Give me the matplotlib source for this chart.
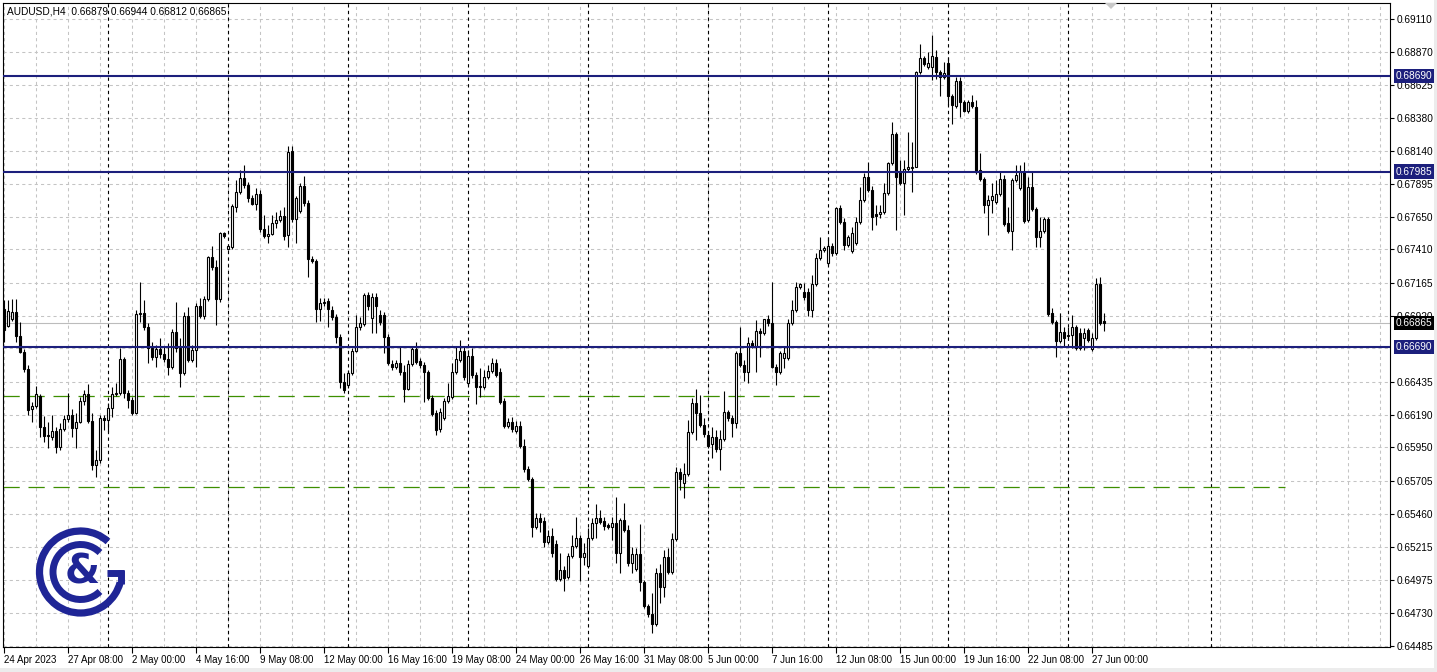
import matplotlib
matplotlib.use("Agg")
import matplotlib.pyplot as plt
from matplotlib.patches import Rectangle, Arc, Polygon
from matplotlib.transforms import blended_transform_factory

# ---------------- data ----------------
title_text = "AUDUSD,H4  0.66879 0.66944 0.66812 0.66865"

opens = [0.66971,0.66846,0.66897,0.66948,0.66772,0.66653,0.66529,0.66234,0.66256,0.66329,
0.66100,0.66034,0.66026,0.66071,0.65953,0.66086,0.66160,0.66189,0.66093,0.66137,
0.66293,0.66343,0.66145,0.65820,0.65857,0.66167,0.66152,0.66241,0.66343,0.66351,
0.66602,0.66351,0.66300,0.66204,0.66933,0.66941,0.66838,0.66683,0.66616,0.66676,
0.66638,0.66602,0.66543,0.66801,0.66683,0.66499,0.66919,0.66595,0.66668,0.66993,
0.66919,0.67045,0.67354,0.67280,0.67045,0.67532,0.67414,0.67428,0.67723,0.67834,
0.67937,0.67885,0.67790,0.67745,0.67819,0.67561,0.67510,0.67524,0.67605,0.67627,
0.67657,0.67517,0.68137,0.67635,0.67694,0.67878,0.67753,0.67340,0.67325,0.66971,
0.67015,0.67030,0.66963,0.66911,0.66764,0.66432,0.66410,0.66499,0.66661,0.66838,
0.66860,0.67074,0.66904,0.67059,0.66926,0.66926,0.66764,0.66565,0.66543,0.66573,
0.66506,0.66381,0.66565,0.66676,0.66587,0.66558,0.66506,0.66314,0.66204,0.66086,
0.66167,0.66293,0.66321,0.66506,0.66595,0.66661,0.66425,0.66624,0.66484,0.66395,
0.66395,0.66469,0.66514,0.66573,0.66506,0.66293,0.66108,0.66137,0.66071,0.66108,
0.65961,0.65791,0.65717,0.65362,0.65429,0.65407,0.65252,0.65297,0.65237,0.64980,
0.65046,0.64994,0.65149,0.65223,0.65282,0.65141,0.65075,0.65282,0.65392,0.65429,
0.65407,0.65377,0.65362,0.65392,0.65171,0.65414,0.65341,0.65097,0.65053,0.65163,
0.64957,0.64780,0.64721,0.64647,0.65024,0.64920,0.65141,0.65031,0.65275,0.65768,
0.65688,0.65753,0.66063,0.66278,0.66204,0.66115,0.66041,0.65975,0.66026,0.65939,
0.66012,0.66211,0.66167,0.66130,0.66646,0.66558,0.66506,0.66720,0.66698,0.66809,
0.66794,0.66897,0.66868,0.66543,0.66506,0.66609,0.66609,0.66868,0.66963,0.67133,
0.67096,0.67096,0.66963,0.67155,0.67347,0.67406,0.67310,0.67436,0.67384,0.67716,
0.67612,0.67443,0.67399,0.67458,0.67612,0.67775,0.67944,0.67849,0.67671,0.67671,
0.67686,0.67827,0.68048,0.68261,0.67989,0.67900,0.68004,0.68011,0.68018,0.68719,
0.68822,0.68755,0.68755,0.68829,0.68719,0.68682,0.68785,0.68542,0.68468,0.68653,
0.68497,0.68432,0.68497,0.68461,0.67996,0.67930,0.67738,0.67775,0.67760,0.67819,
0.67930,0.67605,0.67547,0.67922,0.67863,0.67981,0.67627,0.67870,0.67709,0.67502,
0.67547,0.67635,0.66941,0.66875,0.66735,0.66801,0.66772,0.66779,0.66838,0.66794,
0.66757,0.66816,0.66676,0.66757,0.67155,0.66879]

highs = [0.67037,0.67037,0.67045,0.67045,0.66875,0.66676,0.66558,0.66285,0.66403,0.66343,
0.66182,0.66137,0.66189,0.66100,0.66130,0.66189,0.66351,0.66234,0.66204,0.66321,
0.66373,0.66417,0.66204,0.65931,0.66189,0.66189,0.66278,0.66395,0.66425,0.66683,
0.66616,0.66373,0.66321,0.66963,0.67170,0.67037,0.66868,0.66727,0.66705,0.66757,
0.66690,0.66720,0.66824,0.67022,0.66757,0.66948,0.66985,0.66705,0.67015,0.67052,
0.67067,0.67362,0.67436,0.67332,0.67539,0.67539,0.67443,0.67745,0.67922,0.67996,
0.68033,0.67907,0.67812,0.67863,0.67849,0.67664,0.67590,0.67664,0.67686,0.67701,
0.67723,0.68173,0.68173,0.67805,0.67900,0.67952,0.67775,0.67362,0.67340,0.67052,
0.67052,0.67052,0.66993,0.66933,0.66786,0.66499,0.66521,0.66683,0.66926,0.66911,
0.67089,0.67096,0.67089,0.67089,0.66963,0.66948,0.66786,0.66595,0.66595,0.66698,
0.66558,0.66595,0.66690,0.66727,0.66609,0.66580,0.66521,0.66336,0.66226,0.66241,
0.66314,0.66425,0.66573,0.66690,0.66742,0.66698,0.66668,0.66683,0.66506,0.66536,
0.66521,0.66558,0.66609,0.66602,0.66536,0.66314,0.66167,0.66174,0.66145,0.66145,
0.66012,0.65813,0.65731,0.65466,0.65466,0.65436,0.65341,0.65355,0.65267,0.65171,
0.65075,0.65171,0.65304,0.65436,0.65304,0.65245,0.65355,0.65429,0.65532,0.65488,
0.65436,0.65392,0.65436,0.65584,0.65429,0.65540,0.65377,0.65215,0.65208,0.65384,
0.64972,0.64794,0.64876,0.65060,0.65089,0.65193,0.65208,0.65319,0.65805,0.65798,
0.65835,0.66152,0.66314,0.66381,0.66336,0.66167,0.66071,0.66100,0.66078,0.66078,
0.66366,0.66226,0.66189,0.66661,0.66838,0.66595,0.66764,0.66742,0.66890,0.66831,
0.66897,0.66926,0.67170,0.66565,0.66661,0.66690,0.66897,0.67037,0.67170,0.67163,
0.67163,0.67126,0.67221,0.67384,0.67502,0.67436,0.67502,0.67458,0.67723,0.67738,
0.67642,0.67517,0.67575,0.67649,0.67870,0.67974,0.68055,0.67878,0.67738,0.67738,
0.67900,0.68055,0.68350,0.68276,0.68070,0.68070,0.68276,0.68202,0.68727,0.68925,
0.68837,0.68866,0.68992,0.68881,0.68734,0.68792,0.68829,0.68556,0.68682,0.68682,
0.68512,0.68512,0.68549,0.68512,0.68122,0.67944,0.67812,0.67900,0.67922,0.67981,
0.67959,0.67723,0.67937,0.68033,0.68033,0.68055,0.67944,0.67981,0.67723,0.67649,
0.67649,0.67649,0.66978,0.66890,0.66941,0.66838,0.66838,0.66926,0.66853,0.66831,
0.66831,0.66831,0.66794,0.67199,0.67206,0.66944]

lows = [0.66727,0.66838,0.66883,0.66727,0.66646,0.66506,0.66189,0.66137,0.66241,0.66026,
0.65990,0.65946,0.66005,0.65909,0.65931,0.66071,0.66137,0.66026,0.65946,0.66130,
0.66263,0.66130,0.65783,0.65731,0.65835,0.66078,0.66063,0.66174,0.66329,0.66336,
0.66314,0.66241,0.66189,0.66196,0.66875,0.66816,0.66573,0.66595,0.66543,0.66609,
0.66580,0.66484,0.66529,0.66653,0.66395,0.66484,0.66580,0.66580,0.66543,0.66904,
0.66897,0.67030,0.67258,0.66853,0.67022,0.67495,0.67406,0.67414,0.67686,0.67819,
0.67863,0.67760,0.67738,0.67701,0.67539,0.67495,0.67458,0.67517,0.67568,0.67612,
0.67480,0.67428,0.67612,0.67458,0.67679,0.67731,0.67206,0.67310,0.66875,0.66883,
0.66993,0.66838,0.66890,0.66720,0.66388,0.66351,0.66388,0.66484,0.66653,0.66816,
0.66846,0.66963,0.66794,0.66794,0.66853,0.66646,0.66558,0.66521,0.66529,0.66484,
0.66285,0.66373,0.66551,0.66565,0.66536,0.66285,0.66300,0.66182,0.66041,0.66063,
0.66152,0.66278,0.66307,0.66491,0.66580,0.66447,0.66410,0.66462,0.66270,0.66321,
0.66381,0.66455,0.66499,0.66469,0.66270,0.66093,0.66093,0.66063,0.66056,0.65946,
0.65768,0.65703,0.65289,0.65348,0.65326,0.65215,0.65237,0.65141,0.64965,0.64965,
0.64891,0.64980,0.65134,0.65208,0.64965,0.65082,0.65060,0.65267,0.65282,0.65384,
0.65341,0.65348,0.65267,0.65097,0.65024,0.65326,0.65075,0.65024,0.65039,0.64891,
0.64765,0.64699,0.64581,0.64633,0.64802,0.64846,0.65016,0.65016,0.65260,0.65636,
0.65577,0.65739,0.66048,0.66005,0.66100,0.66026,0.65946,0.65872,0.65916,0.65783,
0.65998,0.66145,0.66026,0.66093,0.66543,0.66440,0.66425,0.66683,0.66506,0.66616,
0.66779,0.66846,0.66536,0.66410,0.66491,0.66536,0.66595,0.66853,0.66948,0.67119,
0.67037,0.66919,0.66911,0.67141,0.67332,0.67391,0.67295,0.67362,0.67369,0.67597,
0.67406,0.67428,0.67384,0.67443,0.67597,0.67760,0.67834,0.67554,0.67590,0.67642,
0.67671,0.67812,0.68033,0.67554,0.67885,0.67664,0.67989,0.67834,0.68070,0.68704,
0.68763,0.68741,0.68660,0.68668,0.68542,0.68668,0.68475,0.68335,0.68453,0.68387,
0.68424,0.68417,0.68453,0.67966,0.67915,0.67679,0.67517,0.67679,0.67745,0.67805,
0.67583,0.67532,0.67406,0.67907,0.67849,0.67605,0.67612,0.67694,0.67428,0.67428,
0.67532,0.66919,0.66860,0.66616,0.66720,0.66690,0.66742,0.66683,0.66668,0.66668,
0.66668,0.66727,0.66661,0.66742,0.66853,0.66812]

closes = [0.66816,0.66956,0.66948,0.66772,0.66653,0.66529,0.66226,0.66256,0.66343,0.66100,
0.66034,0.66041,0.66071,0.65953,0.66086,0.66160,0.66189,0.66093,0.66137,0.66293,
0.66343,0.66145,0.65820,0.65857,0.66167,0.66152,0.66241,0.66343,0.66351,0.66602,
0.66351,0.66300,0.66204,0.66933,0.66941,0.66838,0.66683,0.66616,0.66676,0.66638,
0.66602,0.66543,0.66801,0.66683,0.66499,0.66919,0.66595,0.66668,0.66993,0.66919,
0.67045,0.67354,0.67280,0.67045,0.67532,0.67510,0.67436,0.67731,0.67834,0.67937,
0.67885,0.67790,0.67745,0.67819,0.67561,0.67510,0.67524,0.67605,0.67627,0.67657,
0.67510,0.68129,0.67635,0.67790,0.67878,0.67753,0.67340,0.67325,0.66971,0.67015,
0.67022,0.66971,0.66911,0.66764,0.66432,0.66373,0.66499,0.66661,0.66838,0.66868,
0.67074,0.66993,0.67059,0.66993,0.66875,0.66764,0.66573,0.66543,0.66573,0.66506,
0.66381,0.66565,0.66676,0.66580,0.66558,0.66506,0.66314,0.66196,0.66078,0.66211,
0.66293,0.66329,0.66506,0.66602,0.66661,0.66469,0.66624,0.66484,0.66395,0.66403,
0.66469,0.66514,0.66573,0.66484,0.66285,0.66108,0.66137,0.66086,0.66108,0.65961,
0.65791,0.65717,0.65362,0.65429,0.65399,0.65252,0.65297,0.65171,0.64980,0.65046,
0.64987,0.65149,0.65223,0.65282,0.65141,0.65171,0.65282,0.65392,0.65429,0.65399,
0.65370,0.65362,0.65392,0.65171,0.65414,0.65341,0.65097,0.65163,0.65163,0.64957,
0.64780,0.64721,0.64647,0.65024,0.64920,0.65141,0.65031,0.65275,0.65768,0.65717,
0.65753,0.66063,0.66278,0.66204,0.66115,0.66048,0.65961,0.66026,0.65939,0.66012,
0.66211,0.66167,0.66130,0.66646,0.66558,0.66506,0.66720,0.66698,0.66809,0.66794,
0.66897,0.66868,0.66543,0.66506,0.66646,0.66646,0.66868,0.66963,0.67133,0.67155,
0.67059,0.66963,0.67155,0.67347,0.67406,0.67421,0.67436,0.67384,0.67716,0.67612,
0.67443,0.67502,0.67532,0.67612,0.67775,0.67944,0.67849,0.67649,0.67657,0.67686,
0.67827,0.68048,0.68261,0.67944,0.67900,0.68004,0.68018,0.68018,0.68719,0.68822,
0.68778,0.68785,0.68837,0.68719,0.68682,0.68712,0.68542,0.68475,0.68653,0.68497,
0.68432,0.68497,0.68468,0.67981,0.67930,0.67738,0.67775,0.67805,0.67819,0.67930,
0.67597,0.67547,0.67922,0.67959,0.67981,0.67620,0.67870,0.67709,0.67502,0.67547,
0.67635,0.66933,0.66875,0.66735,0.66801,0.66757,0.66779,0.66838,0.66683,0.66683,
0.66794,0.66742,0.66757,0.67155,0.66868,0.66865]

date_labels = ["24 Apr 2023", "27 Apr 08:00", "2 May 00:00", "4 May 16:00", "9 May 08:00",
               "12 May 00:00", "16 May 16:00", "19 May 08:00", "24 May 00:00", "26 May 16:00",
               "31 May 08:00", "5 Jun 00:00", "7 Jun 16:00", "12 Jun 08:00", "15 Jun 00:00",
               "19 Jun 16:00", "22 Jun 08:00", "27 Jun 00:00"]
price_ticks = [0.69110, 0.68870, 0.68625, 0.68380, 0.68140, 0.67895, 0.67650, 0.67410,
               0.67165, 0.66920, 0.66435, 0.66190, 0.65950, 0.65705, 0.65460, 0.65215,
               0.64975, 0.64730, 0.64485]
hidden_grid_price = 0.66680
blue_levels = [0.68690, 0.67985, 0.66690]
green_levels = [0.66330, 0.65660]
current_price = 0.66865

# ---------------- layout ----------------
W, H = 1437, 672
fig = plt.figure(figsize=(W / 100, H / 100), dpi=100)
fig.patch.set_facecolor("white")
PL, PR, PT, PB = 3, 1390, 3, 647
ax = fig.add_axes([PL / W, 1 - PB / H, (PR - PL) / W, (PB - PT) / H])
ax.set_ylim(0.64478, 0.69228)
ax.set_xlim(-0.25, (PR - 4) / 4)
ax.set_facecolor("white")

FONT = "Liberation Sans"
FS = 7.3
FSX = 7.0
NAVY = "#1c1f7c"
GRID = "#c4c4c4"

# grid
for v in range(0, 347, 8):
    ax.axvline(v, color=GRID, lw=0.75, ls=(0, (3, 3)), zorder=0)
for p in price_ticks + [hidden_grid_price]:
    ax.axhline(p, color=GRID, lw=0.75, ls=(0, (3, 3)), zorder=0)
# period separators (Mondays) plus the one drawn in the empty future area
separators = list(range(26, 267, 30)) + [301.75]
for v in separators:
    ax.axvline(v, color="black", lw=0.8, ls=(0, (3, 3)), zorder=1)

# current price line
ax.axhline(current_price, color="#bcbcbc", lw=0.8, zorder=1)

# green dashed levels
green_ends = [204.75, 320.25]
for lvl, e in zip(green_levels, green_ends):
    ax.hlines(lvl, -0.25, e, color="#3d8f00", lw=0.9, linestyles=[(0, (13, 7))], zorder=2)

# candles
for i, (o, h, l, c) in enumerate(zip(opens, highs, lows, closes)):
    ax.vlines(i, l, h, color="black", lw=0.8, zorder=3)
    if abs(c - o) < 0.00003:
        ax.hlines(o, i - 0.35, i + 0.35, color="black", lw=0.9, zorder=4)
    else:
        ax.add_patch(Rectangle((i - 0.27, min(o, c)), 0.54, abs(c - o),
                               facecolor="white" if c > o else "black",
                               edgecolor="black", lw=0.8, zorder=4))

# blue horizontal levels
for lvl in blue_levels:
    ax.axhline(lvl, color=NAVY, lw=1.5, zorder=5)

# spines
for s in ax.spines.values():
    s.set_color("black")
    s.set_linewidth(0.8)

# y axis on right
ax.yaxis.tick_right()
ax.set_yticks(price_ticks)
ax.set_yticklabels([f"{p:.5f}" for p in price_ticks], fontsize=FS, family=FONT)
ax.tick_params(axis="y", length=3, width=0.8, pad=2, colors="black")

# x axis
ax.set_xticks(range(0, 16 * len(date_labels), 16))
ax.set_xticklabels(date_labels, fontsize=FSX, family=FONT)
for lab in ax.get_xticklabels():
    lab.set_ha("left")
ax.tick_params(axis="x", length=4, width=0.8, pad=1.5, colors="black")

# price boxes on the right
trans = blended_transform_factory(ax.transAxes, ax.transData)
xb = 1 + 6 / (PR - PL)
for lvl in blue_levels:
    ax.text(xb, lvl, f"{lvl:.5f}", transform=trans, color="white", fontsize=FS, family=FONT,
            va="center", ha="left", clip_on=False, zorder=10,
            bbox=dict(boxstyle="square,pad=0.2", fc=NAVY, ec=NAVY, lw=0))
ax.text(xb, current_price, f"{current_price:.5f}", transform=trans, color="white", fontsize=FS,
        family=FONT, va="center", ha="left", clip_on=False, zorder=10,
        bbox=dict(boxstyle="square,pad=0.2", fc="black", ec="black", lw=0))

# title
fig.text(7 / W, 1 - 11 / H, title_text, fontsize=FS, family=FONT, va="center", ha="left")

# chart-shift triangle
fig.add_artist(Polygon([[1105 / W, 1 - 3 / H], [1117 / W, 1 - 3 / H], [1111 / W, 1 - 9 / H]],
                       closed=True, transform=fig.transFigure, fc="#c8c8c8", ec="none"))
# light gray strips on edges
fig.add_artist(Rectangle((1434 / W, 0), 3 / W, 1, transform=fig.transFigure, fc="#ececec", ec="none"))
fig.add_artist(Rectangle((0, 0), 1, 4 / H, transform=fig.transFigure, fc="#ececec", ec="none"))

# logo
lax = fig.add_axes([(80.5 - 50) / W, 1 - (572 + 50) / H, 100 / W, 100 / H])
lax.set_xlim(-50, 50)
lax.set_ylim(-50, 50)
lax.axis("off")
LOGO = "#1f2596"
lax.add_patch(Arc((0, 0), 82, 82, theta1=48, theta2=345, color=LOGO, lw=5.2))
lax.add_patch(Arc((0, 0), 55, 55, theta1=45, theta2=315, color=LOGO, lw=5.0))
lax.plot([26, 43.5], [-0.5, -0.5], color=LOGO, lw=5.0, solid_capstyle="butt")
lax.plot([40.5, 40.5], [2, -11.5], color=LOGO, lw=5.0, solid_capstyle="butt")
lax.text(2, -1, "&", fontsize=29, fontweight="bold", color=LOGO, ha="center", va="center",
         family="DejaVu Sans")

fig.savefig("out.png", dpi=100, facecolor="white")
